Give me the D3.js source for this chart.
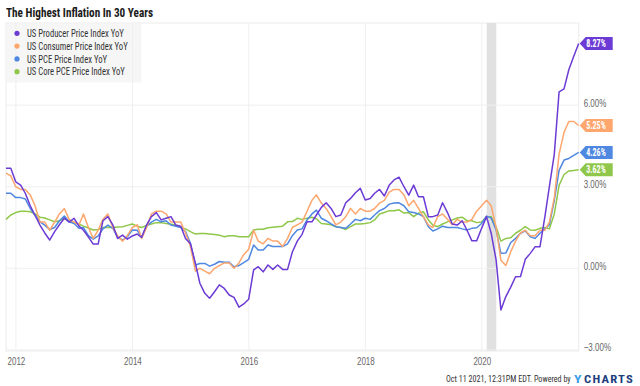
<!DOCTYPE html>
<html>
<head>
<meta charset="utf-8">
<script src="https://cdn.jsdelivr.net/npm/d3@7"></script>
<style>
  body { margin: 0; background: #fff; }
  svg { display: block; font-family: "Roboto Condensed", Roboto, sans-serif; }
</style>
</head>
<body>
<div id="chart"></div>
<script>
// monthly YoY values, first point = Oct 2011, last point = Aug 2021 (month-end dates)
const startYear = 2011, startMonth = 9;
const ppi = [3.68, 3.68, 3.18,
  3.06, 2.76, 2.3, 1.95, 1.59, 1.3, 1.04, 1.35, 1.6, 1.84, 1.7, 1.84,
  1.55, 1.4, 1.15, 0.89, 0.89, 1.75, 1.9, 1.6, 1.1, 1.22, 1.07, 1.19,
  1.26, 1.14, 1.6, 1.9, 2.05, 1.78, 1.84, 1.9, 1.59, 1.55, 1.1, 0.9,
  0.18, -0.55, -0.92, -1.1, -0.86, -0.61, -0.74, -0.98, -1.07, -1.43, -1.31, -1.14,
  -0.06, 0.06, -0.13, 0.12, -0.04, 0.12, -0.04, -0.04, 0.6, 1.0, 1.25, 1.71,
  1.71, 1.96, 2.24, 2.41, 2.2, 1.9, 1.96, 2.41, 2.57, 2.78, 2.94, 2.51,
  2.57, 2.76, 2.9, 2.66, 3.06, 3.25, 3.35, 3.0, 2.69, 3.06, 2.63, 2.63,
  1.9, 1.9, 1.96, 2.41, 2.05, 1.63, 1.59, 1.75, 1.41, 1.01, 1.01, 1.47,
  1.9, 1.29, 0.31, -1.53, -1.04, -0.7, -0.31, -0.3, 0.33, 0.55, 0.79, 0.79,
  1.9, 3.0, 4.2, 6.49, 6.6, 7.3, 7.8, 8.27];
const cpi = [3.5, 3.4, 3.0,
  2.9, 2.9, 2.7, 2.3, 1.7, 1.7, 1.4, 1.7, 2.0, 2.2, 1.8, 1.7,
  1.6, 2.0, 1.5, 1.1, 1.4, 1.8, 2.0, 1.5, 1.2, 1.0, 1.2, 1.5,
  1.6, 1.1, 1.5, 2.0, 2.1, 2.1, 2.0, 1.7, 1.7, 1.7, 1.3, 0.8,
  -0.1, 0.0, -0.1, -0.2, 0.0, 0.1, 0.2, 0.2, 0.0, 0.2, 0.5, 0.7,
  1.4, 1.0, 0.9, 1.1, 1.0, 1.0, 0.8, 1.1, 1.5, 1.6, 1.7, 2.1,
  2.5, 2.7, 2.4, 2.2, 1.9, 1.6, 1.7, 1.9, 2.2, 2.0, 2.2, 2.1,
  2.1, 2.2, 2.4, 2.5, 2.8, 2.9, 2.9, 2.7, 2.3, 2.5, 2.2, 1.9,
  1.6, 1.5, 1.9, 2.0, 1.8, 1.6, 1.8, 1.7, 1.7, 1.8, 2.1, 2.3,
  2.5, 2.3, 1.5, 0.3, 0.1, 0.6, 1.0, 1.3, 1.4, 1.2, 1.2, 1.4,
  1.4, 1.7, 2.6, 4.2, 5.0, 5.4, 5.4, 5.25];
const pce = [2.76, 2.76, 2.6,
  2.6, 2.55, 2.2, 1.95, 1.71, 1.59, 1.43, 1.5, 1.75, 1.92, 1.71, 1.65,
  1.47, 1.5, 1.2, 1.07, 1.19, 1.45, 1.59, 1.47, 1.14, 1.04, 1.16, 1.41,
  1.4, 1.14, 1.55, 1.7, 1.8, 1.71, 1.75, 1.59, 1.55, 1.5, 1.35, 0.92,
  0.12, 0.18, 0.18, 0.08, 0.15, 0.25, 0.22, 0.22, 0.06, 0.1, 0.21, 0.33,
  0.86, 0.67, 0.67, 0.86, 0.8, 0.8, 0.8, 0.9, 1.2, 1.41, 1.45, 1.78,
  2.0, 2.14, 1.84, 1.75, 1.63, 1.53, 1.5, 1.47, 1.63, 1.8, 1.75, 1.84,
  1.8, 1.96, 2.12, 2.2, 2.36, 2.4, 2.41, 2.3, 2.08, 2.05, 2.0, 1.9,
  1.53, 1.37, 1.45, 1.55, 1.5, 1.5, 1.5, 1.45, 1.41, 1.47, 1.49, 1.65,
  1.92, 1.85, 1.41, 0.55, 0.56, 0.94, 1.1, 1.29, 1.38, 1.16, 1.1, 1.29,
  1.45, 1.6, 2.5, 3.6, 3.98, 4.04, 4.15, 4.26];
const corePce = [1.8, 1.96, 2.05,
  2.1, 2.1, 2.08, 2.0, 1.88, 1.85, 1.78, 1.71, 1.75, 1.84, 1.75, 1.7,
  1.62, 1.55, 1.48, 1.41, 1.43, 1.5, 1.5, 1.5, 1.52, 1.53, 1.58, 1.63,
  1.55, 1.5, 1.58, 1.63, 1.68, 1.68, 1.65, 1.62, 1.59, 1.5, 1.45, 1.35,
  1.26, 1.28, 1.28, 1.26, 1.24, 1.22, 1.16, 1.2, 1.2, 1.16, 1.16, 1.16,
  1.41, 1.44, 1.44, 1.49, 1.51, 1.53, 1.55, 1.71, 1.72, 1.84, 1.8, 1.84,
  1.88, 1.82, 1.65, 1.63, 1.6, 1.53, 1.5, 1.43, 1.53, 1.63, 1.63, 1.65,
  1.68, 1.78, 2.0, 2.05, 2.12, 2.12, 2.15, 2.03, 2.05, 1.9, 2.03, 2.08,
  1.78, 1.59, 1.53, 1.63, 1.71, 1.78, 1.85, 1.88, 1.75, 1.75, 1.68, 1.7,
  1.9, 1.9, 1.53, 1.0, 1.1, 1.12, 1.29, 1.4, 1.53, 1.41, 1.4, 1.47,
  1.5, 1.45, 2.0, 3.05, 3.45, 3.58, 3.6, 3.62];

const seriesNames = ["US Producer Price Index YoY", "US Consumer Price Index YoY",
  "US PCE Price Index YoY", "US Core PCE Price Index YoY"];
const seriesValues = [ppi, cpi, pce, corePce];
const seriesColors = ["#6c3bd5", "#fda66d", "#4f88e0", "#8fc74a"];
const yTicks = [-3, 0, 3, 6];
const xTickYears = [2012, 2014, 2016, 2018, 2020];
const recession = [new Date(2020, 1, 1), new Date(2020, 3, 1)];

const W = 640, H = 386;
const plot = { left: 6, right: 578.7, top: 23, bottom: 351 };

// squeeze text to mimic the condensed face used by the original
function condense(sel, k) {
  sel.each(function () {
    const w = this.getComputedTextLength();
    this.setAttribute("textLength", w * k);
    this.setAttribute("lengthAdjust", "spacingAndGlyphs");
  });
}

// same idea, but squeezed with a transform to an exact width
function fitWidth(g, x0, y0, width) {
  const w = g.select("text").node().getComputedTextLength();
  g.attr("transform", `translate(${x0},${y0}) scale(${width / w},1)`);
}

const monthEnd = i => new Date(startYear, startMonth + i + 1, 0);

const svg = d3.select("#chart").append("svg")
  .attr("width", W)
  .attr("height", H);

const x = d3.scaleTime()
  .domain([monthEnd(0), monthEnd(ppi.length - 1)])
  .range([plot.left, plot.right]);

const y = d3.scaleLinear()
  .domain([-3.04, 9.02])
  .range([plot.bottom, plot.top]);

// frame
svg.append("rect")
  .attr("x", plot.left).attr("y", plot.top)
  .attr("width", plot.right - plot.left).attr("height", plot.bottom - plot.top)
  .attr("fill", "none").attr("stroke", "#ebebeb");

// recession band
svg.append("rect")
  .attr("x", x(recession[0])).attr("y", plot.top)
  .attr("width", x(recession[1]) - x(recession[0]))
  .attr("height", plot.bottom - plot.top)
  .attr("fill", "#e1e1e1");

// grid
svg.append("g").selectAll("line").data(yTicks).join("line")
  .attr("x1", plot.left).attr("x2", plot.right)
  .attr("y1", d => y(d)).attr("y2", d => y(d))
  .attr("stroke", "#efefef");
svg.append("g").selectAll("line").data(xTickYears).join("line")
  .attr("x1", d => x(new Date(d, 0, 1))).attr("x2", d => x(new Date(d, 0, 1)))
  .attr("y1", plot.top).attr("y2", plot.bottom)
  .attr("stroke", "#efefef");

// axes
const xAxis = svg.append("g")
  .attr("transform", `translate(0,${plot.bottom})`)
  .call(d3.axisBottom(x)
    .tickValues(xTickYears.map(d => new Date(d, 0, 1)))
    .tickFormat(d3.timeFormat("%Y"))
    .tickSize(0).tickPadding(7));
xAxis.select(".domain").remove();
xAxis.selectAll("text").attr("fill", "#666").style("font-size", "10.5px")
  .call(condense, 0.76);

const yAxis = svg.append("g")
  .attr("transform", `translate(${plot.right},0)`)
  .call(d3.axisRight(y).tickValues(yTicks)
    .tickFormat(d => d3.format(".2f")(d) + "%")
    .tickSize(0).tickPadding(5));
yAxis.select(".domain").remove();
yAxis.selectAll("text").attr("fill", "#666").style("font-size", "10.5px")
  .attr("dy", "0.1em")
  .call(condense, 0.76);

// lines
const line = d3.line()
  .x((d, i) => x(monthEnd(i)))
  .y(d => y(d));

svg.append("g").selectAll("path").data(seriesValues.slice().reverse()).join("path")
  .attr("fill", "none")
  .attr("stroke", (d, i) => seriesColors[seriesColors.length - 1 - i])
  .attr("stroke-width", 1.5)
  .attr("stroke-linejoin", "round")
  .attr("d", line);

// end-value tags
const tags = svg.append("g").selectAll("g").data(seriesValues).join("g")
  .attr("transform", d => `translate(${plot.right + 1},${y(d[d.length - 1])})`);
tags.append("path")
  .attr("d", "M0,0 L6,-6.5 L33,-6.5 L33,6.5 L6,6.5 Z")
  .attr("fill", (d, i) => seriesColors[i]);
tags.append("text")
  .attr("x", 6.5).attr("y", 3.6)
  .attr("fill", "#fff").style("font-size", "10px").style("font-weight", "bold")
  .text(d => d3.format(".2f")(d[d.length - 1]) + "%")
  .call(condense, 0.8);

// legend
const legend = svg.append("g");
legend.append("rect")
  .attr("x", plot.left + 0.5).attr("y", plot.top + 0.5)
  .attr("width", 135).attr("height", 59)
  .attr("fill", "rgba(238,238,238,0.55)");
const items = legend.selectAll("g").data(seriesNames).join("g")
  .attr("transform", (d, i) => `translate(17,${33.3 + i * 12.8})`);
items.append("circle").attr("r", 2.6).attr("fill", (d, i) => seriesColors[i]);
items.append("text")
  .attr("x", 10).attr("y", 3.7)
  .attr("fill", "#333").style("font-size", "10.5px")
  .text(d => d)
  .call(condense, 0.82);

// title
svg.append("text")
  .attr("x", 6).attr("y", 17)
  .attr("fill", "#1a1a1a")
  .style("font-size", "12.5px").style("font-weight", "bold")
  .attr("textLength", 147).attr("lengthAdjust", "spacingAndGlyphs")
  .text("The Highest Inflation In 30 Years");

// footer
const stamp = svg.append("g");
stamp.append("text")
  .attr("fill", "#333").style("font-size", "9.5px")
  .text("Oct 11 2021, 12:31PM EDT. Powered by");
fitWidth(stamp, 446, 382, 125);

const logoY = svg.append("g");
logoY.append("text")
  .attr("fill", "#3a9ee8").style("font-size", "10.5px").style("font-weight", "bold")
  .text("Y");
fitWidth(logoY, 574, 382.5, 7.5);

const logoRest = svg.append("g");
logoRest.append("text")
  .attr("fill", "#1d3e7d").style("font-size", "10.5px").style("font-weight", "bold")
  .attr("letter-spacing", 1)
  .text("CHARTS");
fitWidth(logoRest, 584, 382.5, 50);
</script>
</body>
</html>
